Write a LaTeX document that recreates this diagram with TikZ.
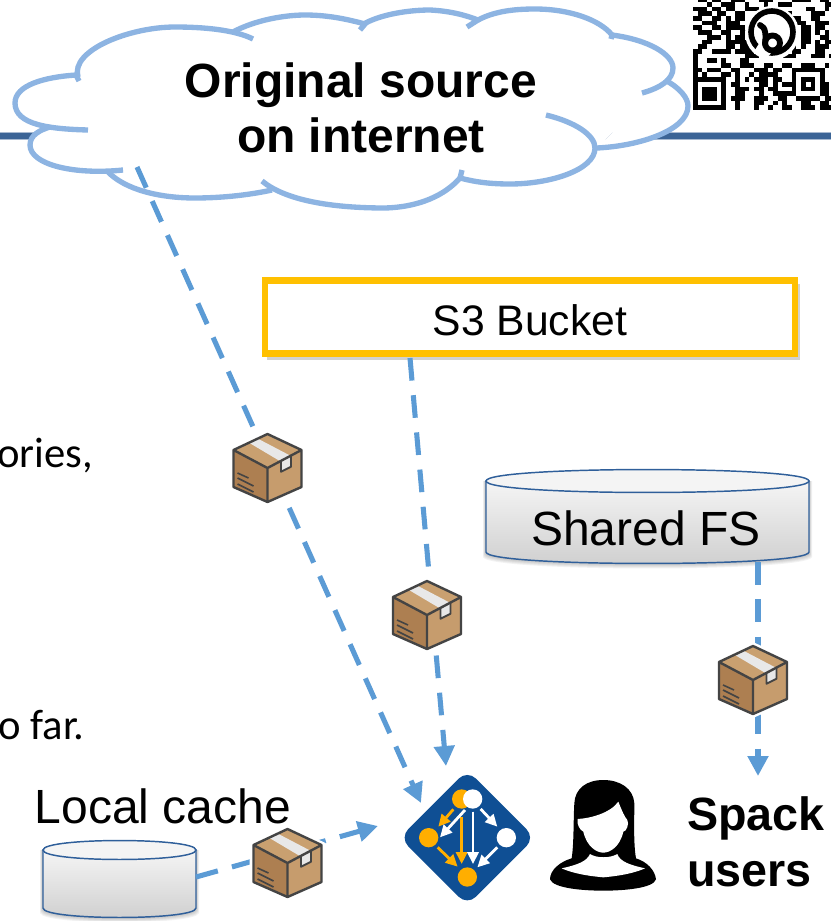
\documentclass[tikz,border=0pt]{standalone}
\usepackage{fontspec}
\setmainfont{Liberation Sans}
\newfontfamily\calibrilike{Carlito}
\usetikzlibrary{arrows.meta}
\definecolor{cloudblue}{HTML}{8DB4E2}
\definecolor{linkblue}{HTML}{5B9BD5}
\definecolor{barblue}{HTML}{3B6496}
\definecolor{goldline}{HTML}{FFC000}
\definecolor{drumline}{HTML}{2F5F9A}
\definecolor{spackblue}{HTML}{0F4F94}
\definecolor{spackgold}{HTML}{FFAE00}
\definecolor{boxedge}{HTML}{444444}
\definecolor{boxleft}{HTML}{AD7F51}
\definecolor{boxright}{HTML}{C69C6D}
\definecolor{boxtop}{HTML}{C9A070}
\newcount\qrx
\newcommand{\qrscan}[2]{\qrx=0 \edef\qrtmp{\noexpand\qrloop{#1}#2\noexpand\relax}\qrtmp}
\def\qrloop#1#2{\ifx#2\relax\let\qrgo\relax\else
  \if#21\fill[black] ({693+4.7*\the\qrx},{-2.8+4.7*#1}) rectangle ++(4.75,4.75);\fi
  \advance\qrx by 1
  \def\qrgo{\qrloop{#1}}\fi\qrgo}
\newcommand{\fillobe}[1]{\fill[white] #1;}
\newcommand{\drawlobe}[1]{\draw[cloudline] #1;}
\newcommand{\cloudlobes}[1]{%
  #1{(88,130) .. controls (50,129) and (15,125) .. (15,103) .. controls (15,85) and (45,77) .. (76,75) -- (79,81)}
  #1{(78,77) .. controls (70,50) and (130,27) .. (175,27) .. controls (205,27) and (235,30) .. (253,39)}
  #1{(233,32) .. controls (255,20) and (285,15) .. (305,15) .. controls (330,15) and (350,20) .. (365,24) -- (360,30)}
  #1{(362,25) .. controls (380,14) and (410,10) .. (430,10) .. controls (450,11) and (465,15) .. (478,20) -- (467,27)}
  #1{(478,20) .. controls (495,11) and (515,9) .. (535,9) .. controls (570,9) and (600,20) .. (612,35) -- (611,39)}
  #1{(612,35) .. controls (650,40) and (673,55) .. (673,68) .. controls (673,80) and (660,88) .. (642,93)}
  #1{(665,80) .. controls (680,88) and (688,98) .. (688,106) .. controls (688,130) and (640,146) .. (597,148)}
  #1{(546,115) .. controls (575,122) and (595,135) .. (595,148) .. controls (595,170) and (550,184) .. (510,184) .. controls (490,184) and (475,182) .. (460,178) -- (462,170)}
  #1{(460,178) .. controls (445,195) and (420,207) .. (385,208) .. controls (330,208) and (285,200) .. (262,181)}
  #1{(272,190) .. controls (240,197) and (210,198) .. (195,198) .. controls (160,198) and (125,190) .. (107,171)}
  #1{(123,170) .. controls (75,175) and (30,165) .. (30,145) .. controls (30,135) and (40,130) .. (50,127)}}
% left, right, top-ellipse centre y, ellipse half height, side bottom y
\newcommand{\drum}[5]{%
  \foreach \g in {1,2,3,4,5}{
    \fill[black,opacity=.05] (#1-\g*.6,#3) -- (#1-\g*.6,#5+\g) .. controls (#1,#5+#4*1.33+\g) and (#2,#5+#4*1.33+\g) .. (#2+\g*.6,#5+\g) -- (#2+\g*.6,#3) -- cycle;}
  \draw[drumedge,top color=gray!8,bottom color=gray!38] (#1,#3) -- (#1,#5) .. controls (#1,#5+#4*1.33) and (#2,#5+#4*1.33) .. (#2,#5) -- (#2,#3) -- cycle;
  \draw[drumedge,fill=gray!9] (#1,#3) .. controls (#1,#3-#4*1.33) and (#2,#3-#4*1.33) .. (#2,#3) .. controls (#2,#3+#4*1.33) and (#1,#3+#4*1.33) .. (#1,#3) -- cycle;}
\tikzset{
  cloudline/.style={draw=cloudblue,line width=4pt,line cap=butt},
  linkline/.style={draw=linkblue,line width=3.8pt,dash pattern=on 17pt off 11pt,-{Triangle[length=15pt,width=15pt,fill=linkblue]}},
  drumedge/.style={draw=drumline,line width=1.1pt},
  gatemark/.style={-{Triangle[length=9pt,width=8.5pt]},line width=2.1pt},
  label36/.style={font=\fontsize{36pt}{42pt}\selectfont,anchor=base,inner sep=0pt},
  boldlabel/.style={font=\fontsize{36pt}{42pt}\bfseries\selectfont,anchor=base,inner sep=0pt,align=center},
  parcel/.pic={
    \fill[white] (0,-38) -- (38,-20) -- (38,21) -- (0,38) -- (-38,21) -- (-38,-20) -- cycle;
    \fill[boxleft] (-34,-18) -- (0,0) -- (0,34) -- (-34,19) -- cycle;
    \fill[boxright] (34,-18) -- (0,0) -- (0,34) -- (34,19) -- cycle;
    \fill[boxtop] (0,-34) -- (34,-18) -- (0,0) -- (-34,-18) -- cycle;
    \fill[gray!18] (-17.5,-24.7) -- (-9,-29) -- (23.5,-12) -- (23.5,-1.3) -- (13.5,3.7) -- (13.5,-6.3) -- cycle;
    \draw[boxedge,line width=1.4pt,line join=round] (13.5,-6.3) -- (13.5,3.7) -- (23.5,-1.3) -- (23.5,-12);
    \draw[boxedge,line width=1.8pt,line join=round] (0,-34) -- (34,-18) -- (34,19) -- (0,34) -- (-34,19) -- (-34,-18) -- cycle (-34,-18) -- (0,0) -- (34,-18) (0,0) -- (0,34);
    \draw[boxedge,line width=1.2pt] (-30,5) -- (-19,10) (-30,10) -- (-14,18) (-30,16) -- (-14,24);
  }
}
\begin{document}
\begin{tikzpicture}[x=0.75pt,y=-0.75pt]
\useasboundingbox (0,0) rectangle (831,921);
\clip (0,0) rectangle (831,921);
% header bar
\fill[barblue!45] (0,131.5) rectangle (831,140);
\fill[barblue] (0,132.5) rectangle (831,138.5);
% QR code
\foreach \qi/\qs in {0/011011001110001110000111100110,1/000100111001000100111000000011,2/111011011001110000000000110010,3/011101100110000111111000011100,4/110011010110011000000110011000,5/001110011100110000000011001110,6/110011011110100111000001101100,7/011100110011100111000001101010,8/000111010110101101111001100110,9/001100011111100101100101101011,10/011000011011100100000101001110,11/110011110111100111000110001100,12/100000000001110011111100011101,13/100110100011000000000000000000,14/100000110011100110011001110010,15/110111001100011101100111111100,16/101000110100101111000100000100,17/111111100101011101100101110100,18/100000101100001101011101010110,19/101110100111011011000101110110,20/101110100110001001111100000110,21/101110101110011100110011111011,22/100000100100011001010001100110,23/111111100100010010011001110111}{\qrscan{\qi}{\qs}}
\fill[white] (772,33) circle (27);
\draw[black,line width=4.2pt] (772,32) circle (21);
\fill[white] (755,50) -- (765,60) -- (772,52) -- (760,42) -- cycle;
\draw[black,line width=4.4pt,line cap=round] (760,25) .. controls (766,27) and (766,36) .. (765,44);
\draw[black,line width=4.4pt] (772.5,43) circle (7.5);
% cloud
\fill[white] (50,127) -- (78,77) -- (233,32) -- (363,24) -- (478,20) -- (612,35) -- (665,80) -- (597,148) -- (460,178) -- (272,190) -- (107,171) -- cycle;
\cloudlobes\fillobe
\cloudlobes\drawlobe
\node[boldlabel] (srcA) at (361,97) {Original source};
\node[boldlabel] (srcB) at (361,152) {on internet};
\coordinate (srcout) at (137,167);
% S3 bucket
\fill[black!18] (267,284) rectangle (800,360);
\node[draw=goldline,fill=white,line width=5pt,minimum width=397.5pt,minimum height=55pt,inner sep=0pt] (s3) at (530,317) {};
\node[font=\fontsize{32pt}{38pt}\selectfont,anchor=base,inner sep=0pt] (s3text) at (530,335) {S3 Bucket};
\coordinate (s3out) at (410,358);
% drums
\drum{486}{809}{481}{11.5}{552}
\node[label36] (fstext) at (646,545) {Shared FS};
\coordinate (fsout) at (758,562);
\drum{43}{196}{850}{9.5}{908}
\node[label36] (cachetext) at (163,823) {Local cache};
\coordinate (cacheout) at (196,877);
% targets
\coordinate (inA) at (421,803);
\coordinate (inB) at (446,766);
\coordinate (inC) at (758,776);
\coordinate (inD) at (378,826);
\draw[linkline] (srcout) -- (inA);
\draw[linkline] (s3out) -- (inB);
\draw[linkline] (fsout) -- (inC);
\draw[linkline] (cacheout) -- (inD);
% parcels
\pic (p1) at (267.5,468) {parcel};
\pic (p2) at (427,615) {parcel};
\pic (p3) at (753,680) {parcel};
\pic (p4) at (287.5,863) {parcel};
% fragments of body text
\node[font=\calibrilike\fontsize{32pt}{38pt}\selectfont,anchor=base east,inner sep=0pt] (fragA) at (93,467) {ories,};
\node[font=\calibrilike\fontsize{32pt}{38pt}\selectfont,anchor=base east,inner sep=0pt] (fragB) at (85,739) {o far.};
% Spack logo and user
\begin{scope}[shift={(390,760)},x=0.25pt,y=-0.25pt]
  \fill[spackblue,rounded corners=9pt] (232,30) -- (435,233) -- (232,436) -- (29,233) -- cycle;
  \fill[spackgold] (215,117) circle (29);
  \fill[white] (248,117) circle (29);
  \fill[spackgold] (116,233) circle (29);
  \fill[white] (349,233) circle (29);
  \fill[spackgold] (232,351) circle (29);
  \draw[gatemark,draw=spackgold,fill=spackgold] (190,148) -- (145,200);
  \draw[gatemark,draw=spackgold,fill=spackgold] (215,170) -- (215,312);
  \draw[gatemark,draw=spackgold,fill=spackgold] (143,262) -- (203,320);
  \draw[gatemark,draw=white,fill=white] (225,150) -- (150,232);
  \draw[gatemark,draw=white,fill=white] (249,155) -- (249,312);
  \draw[gatemark,draw=white,fill=white] (272,147) -- (322,200);
  \draw[gatemark,draw=white,fill=white] (322,262) -- (262,322);
  % person
  \fill[black] (640,60) .. controls (590,60) and (555,85) .. (553,130) .. controls (550,180) and (552,250) .. (545,295) .. controls (510,305) and (480,330) .. (480,358) .. controls (490,385) and (580,392) .. (640,392) .. controls (700,392) and (790,385) .. (798,358) .. controls (795,330) and (770,305) .. (738,295) .. controls (730,250) and (733,180) .. (733,130) .. controls (730,85) and (690,60) .. (640,60) -- cycle;
  \fill[white] (563,177) .. controls (600,175) and (660,160) .. (685,125) .. controls (695,150) and (703,170) .. (712,180) .. controls (718,190) and (710,215) .. (700,215) .. controls (690,260) and (660,278) .. (640,278) .. controls (620,278) and (590,260) .. (580,215) .. controls (570,210) and (560,195) .. (563,177) -- cycle;
  \fill[white] (515,325) .. controls (560,315) and (590,305) .. (600,282) .. controls (620,295) and (660,295) .. (682,282) .. controls (690,305) and (720,315) .. (765,325) .. controls (720,345) and (660,350) .. (640,352) .. controls (620,350) and (560,345) .. (515,325) -- cycle;
\end{scope}
\node[boldlabel,font=\fontsize{35pt}{42pt}\bfseries\selectfont,anchor=base west] (spackA) at (687,830) {Spack};
\node[boldlabel,font=\fontsize{35pt}{42pt}\bfseries\selectfont,anchor=base west] (spackB) at (687,886) {users};
\end{tikzpicture}
\end{document}
